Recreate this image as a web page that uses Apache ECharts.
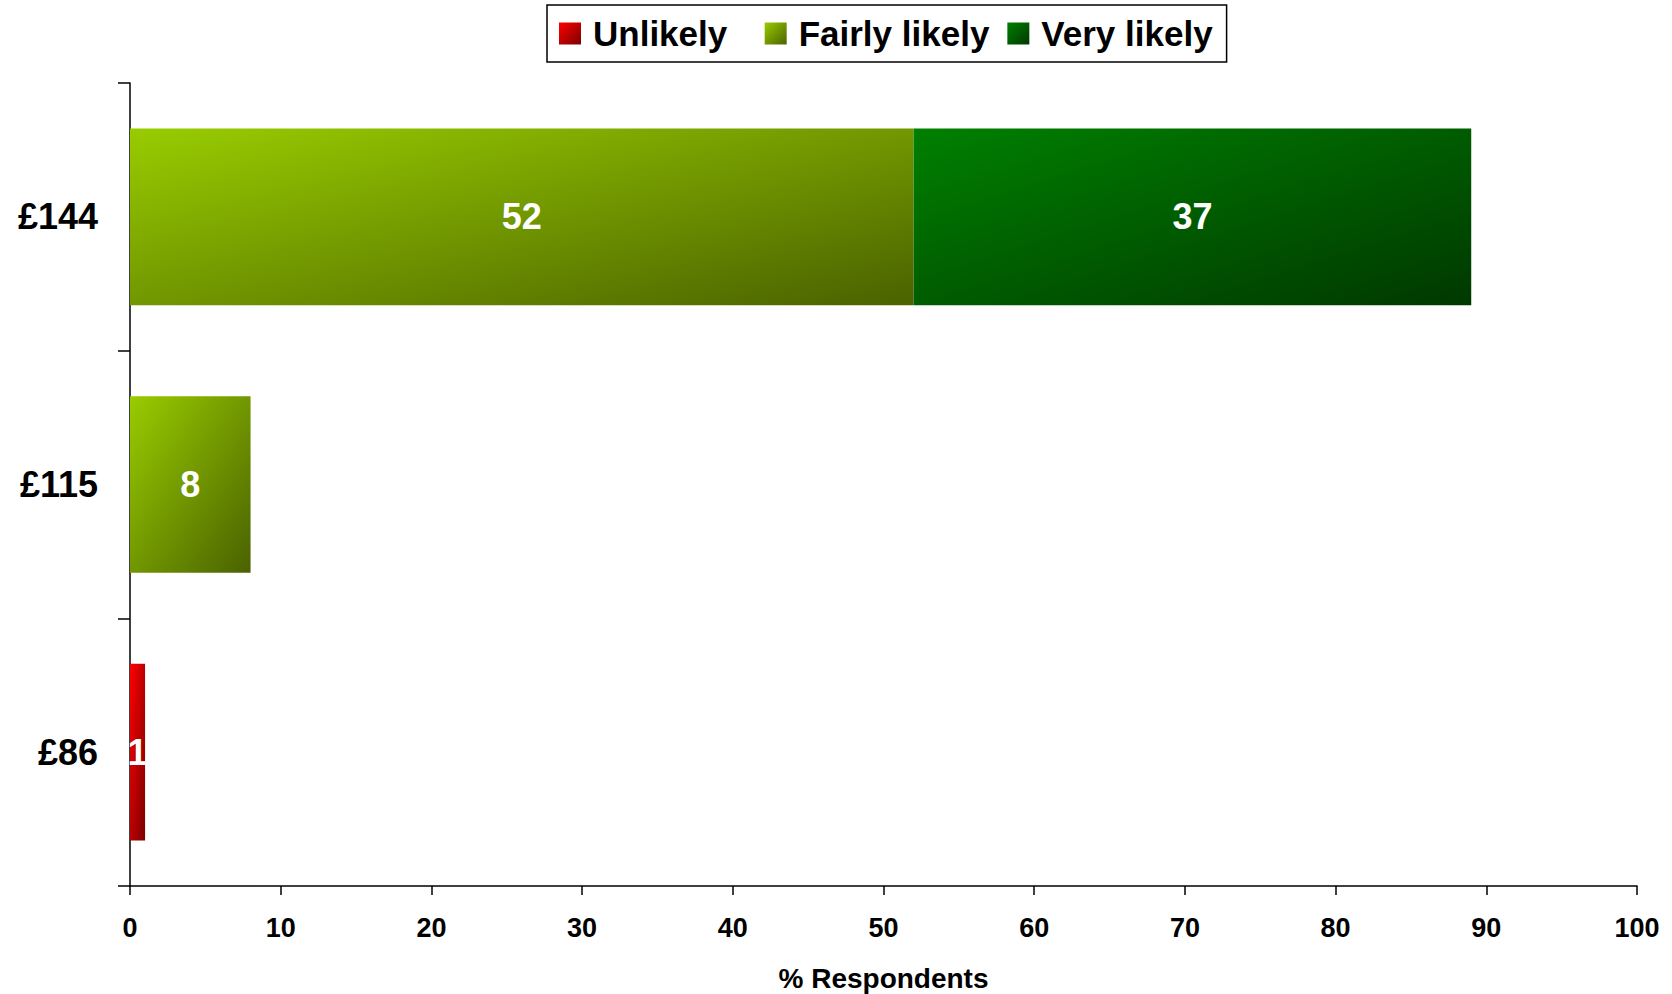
<!DOCTYPE html>
<html>
<head>
<meta charset="utf-8">
<script src="https://cdn.jsdelivr.net/npm/echarts@6/dist/echarts.min.js"></script>
<style>
html,body{margin:0;padding:0;background:#fff;}
#chart{width:1672px;height:994px;}
</style>
</head>
<body>
<div id="chart"></div>
<script>
var categories = ['£86', '£115', '£144'];
var seriesNames = ['Unlikely', 'Fairly likely', 'Very likely'];
var unlikely = [1, null, null];
var fairlyLikely = [null, 8, 52];
var veryLikely = [null, null, 37];
var xTicks = {min: 0, max: 100, interval: 10};

function grad(c1, c2) {
  return {type: 'linear', x: 0, y: 0, x2: 1, y2: 1,
    colorStops: [{offset: 0, color: c1}, {offset: 1, color: c2}]};
}
var FONT = '"Liberation Sans", Arial, sans-serif';
var colors = [grad('#FF0000', '#7A0000'), grad('#99CC00', '#4A6200'), grad('#008000', '#003800')];

var labelCfg = {show: true, position: 'inside', color: '#fff', fontWeight: 'bold', fontSize: 36, fontFamily: FONT};
function mk(name, data, col) {
  return {name: name, type: 'bar', stack: 'total', data: data, barCategoryGap: '34%',
    itemStyle: {color: col}, label: labelCfg};
}

var chart = echarts.init(document.getElementById('chart'), null, {renderer: 'svg'});
chart.setOption({
  animation: false,
  backgroundColor: '#fff',
  textStyle: {fontFamily: FONT},
  legend: {
    top: 5, left: 547,
    data: seriesNames,
    formatter: function (name) {
      return name === seriesNames[0] ? name + '\u00a0\u00a0' : name;
    },
    itemWidth: 22, itemHeight: 22, itemGap: 18,
    padding: [11, 14, 11, 12],
    borderColor: '#000', borderWidth: 1.5,
    icon: 'rect',
    textStyle: {fontSize: 35, fontWeight: 'bold', color: '#000', fontFamily: FONT, padding: [0, 0, 0, 7]}
  },
  grid: {left: 130, right: 35, top: 83, bottom: 108, containLabel: false, outerBoundsMode: 'none'},
  xAxis: {
    type: 'value', min: xTicks.min, max: xTicks.max, interval: xTicks.interval,
    name: '% Respondents', nameLocation: 'middle', nameGap: 78,
    nameTextStyle: {fontSize: 28, fontWeight: 'bold', color: '#000', fontFamily: FONT},
    axisLine: {show: true, lineStyle: {color: '#000', width: 1.5}},
    axisTick: {show: true, length: 9, lineStyle: {color: '#000', width: 1.5}},
    axisLabel: {fontSize: 27, fontWeight: 'bold', color: '#000', margin: 28, fontFamily: FONT},
    splitLine: {show: false}
  },
  yAxis: {
    type: 'category', data: categories,
    axisLine: {show: true, lineStyle: {color: '#000', width: 1.5}},
    axisTick: {show: true, length: 12, lineStyle: {color: '#000', width: 1.5}},
    axisLabel: {fontSize: 36, fontWeight: 'bold', color: '#000', margin: 32, fontFamily: FONT},
    splitLine: {show: false}
  },
  series: [
    mk(seriesNames[0], unlikely, colors[0]),
    mk(seriesNames[1], fairlyLikely, colors[1]),
    mk(seriesNames[2], veryLikely, colors[2])
  ]
});
</script>
</body>
</html>
